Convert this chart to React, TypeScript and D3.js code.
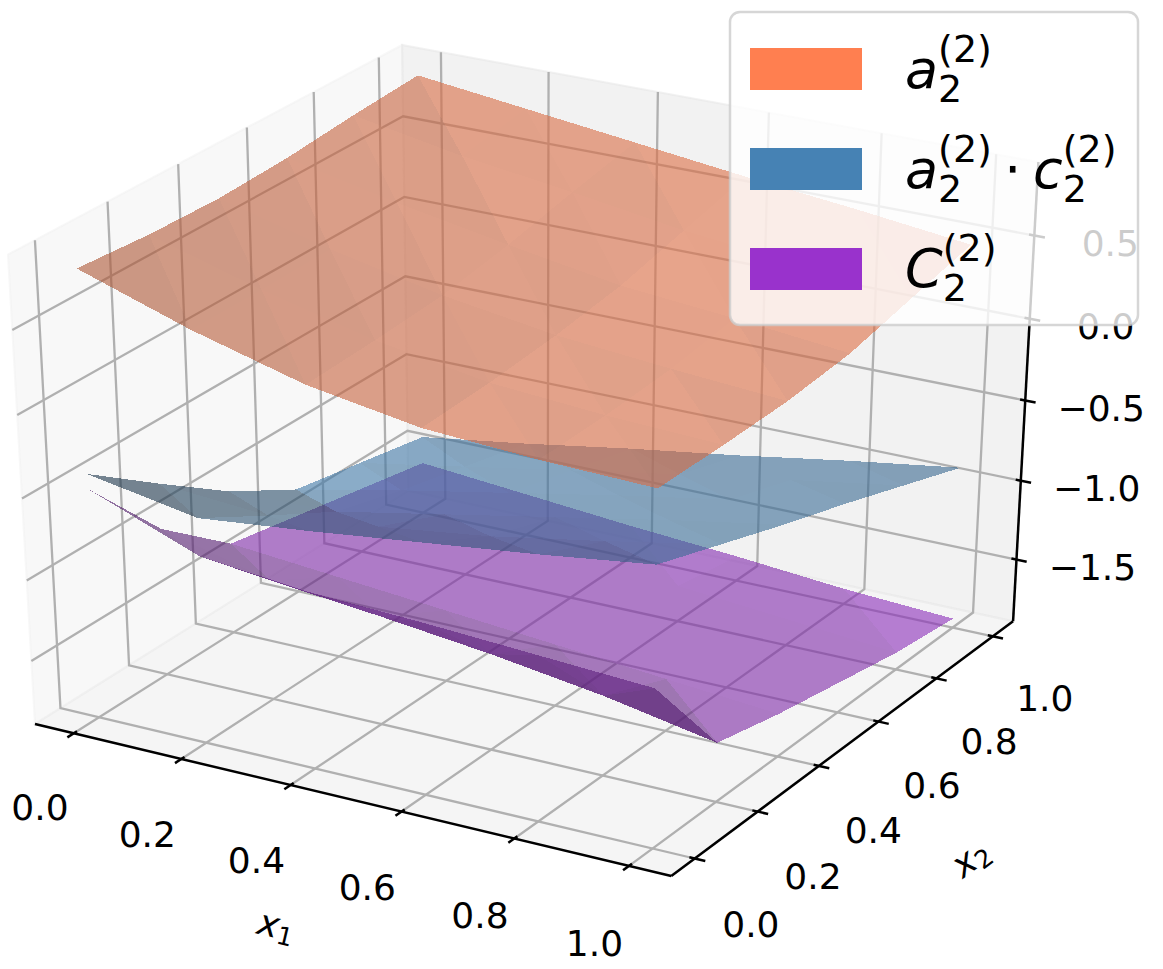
import React, { useEffect, useRef } from 'react';
import * as d3 from 'd3';

// inputs of the network
const x1Grid = [0, 0.2, 0.4, 0.6, 0.8, 1.0];
const x2Grid = [0, 0.2, 0.4, 0.6, 0.8, 1.0];

// a_2^(2)  (rows follow x1Grid, columns follow x2Grid)
const a2 = [
  [0.82, 0.79, 0.78, 0.80, 0.84, 0.87],
  [0.60, 0.60, 0.61, 0.66, 0.72, 0.79],
  [0.42, 0.44, 0.47, 0.54, 0.63, 0.71],
  [0.31, 0.33, 0.37, 0.43, 0.53, 0.63],
  [0.27, 0.28, 0.31, 0.37, 0.46, 0.56],
  [0.25, 0.25, 0.26, 0.30, 0.39, 0.48],
];

// a_2^(2) . c_2^(2)
const a2c2 = [
  [-0.39, -0.70, -1.00, -1.24, -1.32, -1.40],
  [-0.51, -0.75, -0.98, -1.10, -1.20, -1.30],
  [-0.44, -0.67, -0.85, -0.97, -1.08, -1.19],
  [-0.36, -0.58, -0.72, -0.84, -0.96, -1.09],
  [-0.28, -0.46, -0.59, -0.72, -0.85, -0.98],
  [-0.19, -0.33, -0.47, -0.60, -0.74, -0.88],
];

// C_2^(2)
const c2 = [
  [-0.48, -0.98, -1.33, -1.41, -1.49, -1.57],
  [-0.74, -1.15, -1.39, -1.47, -1.55, -1.63],
  [-0.81, -1.22, -1.45, -1.53, -1.61, -1.69],
  [-0.84, -1.30, -1.51, -1.59, -1.67, -1.74],
  [-0.88, -1.40, -1.57, -1.65, -1.73, -1.80],
  [-0.92, -1.53, -1.63, -1.71, -1.79, -1.84],
];

const seriesColors = ['#ff7f50', '#4682b4', '#9932cc'];
const legendLabels = [
  [['a', '2', '(2)']],
  [['a', '2', '(2)'], ['\u22c5'], ['c', '2', '(2)']],
  [['C', '2', '(2)']],
];

const x1Ticks = [0, 0.2, 0.4, 0.6, 0.8, 1.0];
const x2Ticks = [0, 0.2, 0.4, 0.6, 0.8, 1.0];
const zTicks = [-1.5, -1.0, -0.5, 0.0, 0.5];

const xLim: [number, number] = [-0.05, 1.05];
const yLim: [number, number] = [-0.05, 1.05];
const zLim: [number, number] = [-1.841, 0.878];

const W = 1163;
const H = 969;
const FONT = 'DejaVu Sans, sans-serif';

type V3 = [number, number, number];
const dot = (a: number[], b: number[]) => a[0] * b[0] + a[1] * b[1] + a[2] * b[2];

export default function App() {
  const ref = useRef<SVGSVGElement>(null);

  useEffect(() => {
    if (!ref.current) return;
    const svg = d3.select(ref.current);
    svg.selectAll('*').remove();

    // matplotlib style camera: elev 30, azim -60, dist 10
    const el = (30 * Math.PI) / 180;
    const az = (-60 * Math.PI) / 180;
    const w = [Math.cos(el) * Math.cos(az), Math.cos(el) * Math.sin(az), Math.sin(el)];
    const u = [-Math.sin(az), Math.cos(az), 0];
    const v = [-Math.sin(el) * Math.cos(az), -Math.sin(el) * Math.sin(az), Math.cos(el)];
    const dist = 10;

    const nx = d3.scaleLinear().domain(xLim).range([-0.5, 0.5]);
    const ny = d3.scaleLinear().domain(yLim).range([-0.5, 0.5]);
    const nz = d3.scaleLinear().domain(zLim).range([-0.5, 0.5]);
    const sx = d3.scaleLinear().domain([0, 0.1]).range([531.9, 1237.0]);
    const sy = d3.scaleLinear().domain([0, 0.1]).range([445.7, -68.6]);

    const proj = (q: V3): V3 => {
      const d = dist - dot(w, q);
      return [sx(dot(u, q) / d), sy(dot(v, q) / d), dot(w, q)];
    };
    const path = (pts: V3[], close = false) =>
      'M' + pts.map((p) => { const [X, Y] = proj(p); return `${X.toFixed(2)},${Y.toFixed(2)}`; }).join('L') + (close ? 'Z' : '');

    const lo = -0.5 - 1 / 48;
    const hi = 0.5 + 1 / 48;
    const delta = 1 / 12;

    // panes
    const panes: { pts: V3[]; c: string }[] = [
      { pts: [[lo, lo, lo], [lo, hi, lo], [lo, hi, hi], [lo, lo, hi]], c: 'rgb(242,242,242)' },
      { pts: [[lo, hi, lo], [hi, hi, lo], [hi, hi, hi], [lo, hi, hi]], c: 'rgb(230,230,230)' },
      { pts: [[lo, lo, lo], [hi, lo, lo], [hi, hi, lo], [lo, hi, lo]], c: 'rgb(236,236,236)' },
    ];
    const gPane = svg.append('g');
    panes.forEach((p) => {
      gPane.append('path').attr('d', path(p.pts, true))
        .attr('fill', p.c).attr('fill-opacity', 0.5)
        .attr('stroke', p.c).attr('stroke-opacity', 0.5).attr('stroke-width', 2);
    });

    // grid
    const gGrid = svg.append('g').attr('fill', 'none').attr('stroke', '#b0b0b0').attr('stroke-width', 2.3);
    x1Ticks.forEach((t) => {
      const x = nx(t);
      gGrid.append('path').attr('d', path([[x, lo, lo], [x, hi, lo], [x, hi, hi]]));
    });
    x2Ticks.forEach((t) => {
      const y = ny(t);
      gGrid.append('path').attr('d', path([[hi, y, lo], [lo, y, lo], [lo, y, hi]]));
    });
    zTicks.forEach((t) => {
      const z = nz(t);
      gGrid.append('path').attr('d', path([[lo, lo, z], [lo, hi, z], [hi, hi, z]]));
    });

    // axis lines and ticks
    const gAx = svg.append('g').attr('fill', 'none').attr('stroke', '#000').attr('stroke-width', 2.5);
    gAx.append('path').attr('d', path([[lo, lo, lo], [hi, lo, lo]]));
    gAx.append('path').attr('d', path([[hi, lo, lo], [hi, hi, lo]]));
    gAx.append('path').attr('d', path([[hi, hi, lo], [hi, hi, hi]]));
    x1Ticks.forEach((t) => {
      const x = nx(t);
      gAx.append('path').attr('d', path([[x, lo - 0.2 * delta, lo], [x, lo + 0.1 * delta, lo]]));
    });
    x2Ticks.forEach((t) => {
      const y = ny(t);
      gAx.append('path').attr('d', path([[hi + 0.2 * delta, y, lo], [hi - 0.1 * delta, y, lo]]));
    });
    zTicks.forEach((t) => {
      const z = nz(t);
      gAx.append('path').attr('d', path([[hi + 0.2 * delta, hi, z], [hi - 0.1 * delta, hi, z]]));
    });

    // tick labels
    const fmt = d3.format('.1f');
    const gLab = svg.append('g').attr('font-family', FONT).attr('font-size', 36)
      .attr('text-anchor', 'middle').attr('dominant-baseline', 'central').attr('fill', '#000');
    x1Ticks.forEach((t) => {
      const [X, Y] = proj([nx(t), lo - 0.095, lo - 0.12]);
      gLab.append('text').attr('x', X).attr('y', Y).text(fmt(t));
    });
    x2Ticks.forEach((t) => {
      const [X, Y] = proj([hi + 0.09, ny(t), lo - 0.12]);
      gLab.append('text').attr('x', X).attr('y', Y).text(fmt(t));
    });
    zTicks.forEach((t) => {
      const [X, Y] = proj([hi, hi, nz(t)]);
      gLab.append('text').attr('x', X + 76).attr('y', Y + 8).text(fmt(t));
    });

    // axis labels
    const axisLabel = (pos: V3, a: V3, b: V3, sub: string) => {
      const [X, Y] = proj(pos);
      const [ax, ay] = proj(a);
      const [bx, by] = proj(b);
      const ang = (Math.atan2(by - ay, bx - ax) * 180) / Math.PI;
      const t = gLab.append('text').attr('transform', `translate(${X},${Y}) rotate(${ang})`);
      t.append('tspan').attr('font-style', 'italic').text('x');
      t.append('tspan').attr('font-size', 25).attr('dy', 9).text(sub);
    };
    axisLabel([0, lo - 0.19, lo - 0.18], [lo, lo, lo], [hi, lo, lo], '1');
    axisLabel([hi + 0.2, 0, lo - 0.2], [hi, lo, lo], [hi, hi, lo], '2');

    // surfaces, shaded by how much each facet faces the light
    const light = [-1, -1, 0.5];
    const surfaces = [
      { z: c2, color: seriesColors[2], gain: 0.35 },
      { z: a2c2, color: seriesColors[1], gain: 0.35 },
      { z: a2, color: seriesColors[0], gain: 0.18 },
    ];
    surfaces.forEach((s) => {
      const P = (i: number, j: number): V3 => [x1Grid[i], x2Grid[j], s.z[i][j]];
      const tris: V3[][] = [];
      for (let i = 0; i < x1Grid.length - 1; i++) {
        for (let j = 0; j < x2Grid.length - 1; j++) {
          tris.push([P(i, j), P(i + 1, j), P(i, j + 1)]);
          tris.push([P(i + 1, j), P(i + 1, j + 1), P(i, j + 1)]);
        }
      }
      const items = tris.map((t) => {
        const e1 = [t[1][0] - t[0][0], t[1][1] - t[0][1], t[1][2] - t[0][2]];
        const e2 = [t[2][0] - t[0][0], t[2][1] - t[0][1], t[2][2] - t[0][2]];
        let n = [e1[1] * e2[2] - e1[2] * e2[1], e1[2] * e2[0] - e1[0] * e2[2], e1[0] * e2[1] - e1[1] * e2[0]];
        if (n[2] < 0) n = n.map((c) => -c);
        const len = Math.hypot(n[0], n[1], n[2]);
        const shade = dot(n.map((c) => c / len), light);
        const q = t.map((p) => [nx(p[0]), ny(p[1]), nz(p[2])] as V3);
        const depth = d3.mean(q, (p) => dot(w, p)) as number;
        return { q, shade, depth };
      });
      const mid = d3.median(items, (d) => d.shade) as number;
      const k = (sh: number) => Math.max(0.4, Math.min(1, 0.83 + s.gain * (sh - mid)));
      const base = d3.rgb(s.color);
      items.sort((a, b) => a.depth - b.depth);
      const g = svg.append('g');
      items.forEach((it) => {
        const f = k(it.shade);
        const c = d3.rgb(base.r * f, base.g * f, base.b * f);
        g.append('path').attr('d', path(it.q, true))
          .attr('fill', c.formatRgb()).attr('fill-opacity', 0.6)
          .attr('shape-rendering', 'crispEdges');
      });
    });

    // legend
    const lg = svg.append('g').attr('font-family', FONT);
    lg.append('rect').attr('x', 730).attr('y', 12).attr('width', 408).attr('height', 313).attr('rx', 10)
      .attr('fill', '#fff').attr('fill-opacity', 0.8)
      .attr('stroke', '#cccccc').attr('stroke-opacity', 0.8).attr('stroke-width', 2.5);
    seriesColors.forEach((c, i) => {
      lg.append('rect').attr('x', 750).attr('y', 48 + 100 * i).attr('width', 112).attr('height', 42).attr('fill', c);
      const baseY = 88 + 99.5 * i;
      let x = 905;
      legendLabels[i].forEach((part) => {
        if (part.length === 1) {
          x += 12;
          const t = lg.append('text').attr('x', x).attr('y', baseY).attr('font-size', 54).text(part[0]);
          x += (t.node() as SVGTextElement).getComputedTextLength() + 12;
          return;
        }
        const t = lg.append('text').attr('x', x).attr('y', baseY).attr('font-size', 54)
          .attr('font-style', 'italic').text(part[0]);
        x += (t.node() as SVGTextElement).getComputedTextLength();
        const sb = lg.append('text').attr('x', x).attr('y', baseY + 14).attr('font-size', 38).text(part[1]);
        const sp = lg.append('text').attr('x', x).attr('y', baseY - 26).attr('font-size', 38).text(part[2]);
        x += Math.max(
          (sb.node() as SVGTextElement).getComputedTextLength(),
          (sp.node() as SVGTextElement).getComputedTextLength(),
        );
      });
    });
  }, []);

  return (
    <svg
      ref={ref}
      width={W}
      height={H}
      style={{ position: 'absolute', left: 0, top: 0, background: '#fff' }}
    />
  );
}
